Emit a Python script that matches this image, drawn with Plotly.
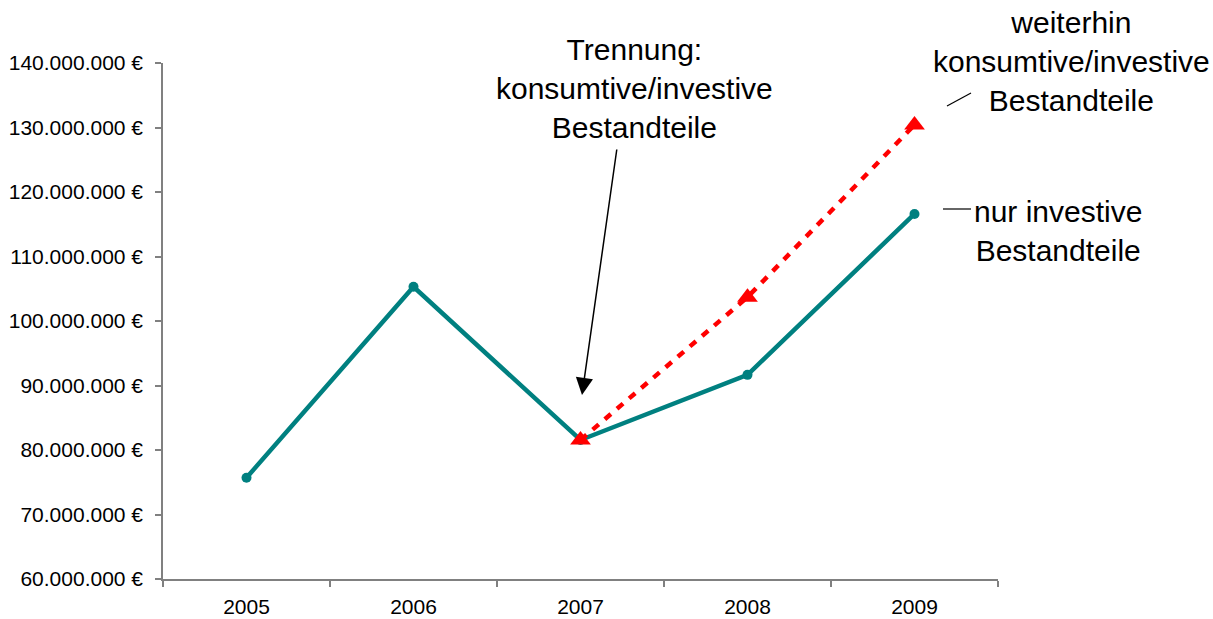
import plotly.graph_objects as go

years = ["2005", "2006", "2007", "2008", "2009"]
nur_investiv = [75_700_000, 105_300_000, 81_550_000, 91_650_000, 116_600_000]
weiterhin_years = ["2007", "2008", "2009"]
weiterhin = [81_550_000, 103_700_000, 130_400_000]

FONT = "Liberation Sans, Arial, sans-serif"
L, R, T, B = 163, 215, 63, 40
W, H = 1213, 619
pw, ph = W - L - R, H - T - B

def px(x):
    return (x - L) / pw

def py(y):
    return (H - B - y) / ph

fig = go.Figure()
fig.add_trace(go.Scatter(
    x=years, y=nur_investiv, mode="lines+markers",
    line=dict(color="#008080", width=4.5),
    marker=dict(color="#008080", size=10, symbol="circle"),
    showlegend=False, cliponaxis=False,
))
fig.add_trace(go.Scatter(
    x=weiterhin_years, y=weiterhin, mode="lines+markers",
    line=dict(color="#FF0000", width=4.5, dash="8px,8px"),
    marker=dict(color="#FF0000", size=18, symbol="triangle-up"),
    showlegend=False, cliponaxis=False,
))

fig.update_layout(
    width=W, height=H,
    margin=dict(l=L, r=R, t=T, b=B),
    paper_bgcolor="white", plot_bgcolor="white",
    font=dict(family=FONT, size=21, color="black"),
    separators=",.",
    xaxis=dict(
        type="category", range=[-0.5, 4.5], automargin=False,
        showline=True, linecolor="#808080", linewidth=1.5,
        ticks="outside", tickson="boundaries", ticklen=6, tickcolor="#808080", tickwidth=1.5,
        showgrid=False, zeroline=False, ticklabelstandoff=8,
        tickfont=dict(family=FONT, size=21, color="black"),
    ),
    yaxis=dict(
        range=[60_000_000, 140_000_000], dtick=10_000_000, automargin=False,
        tickformat=",d", ticksuffix=" €",
        showline=True, linecolor="#808080", linewidth=1.5,
        ticks="outside", ticklen=6, tickcolor="#808080", tickwidth=1.5,
        showgrid=False, zeroline=False, ticklabelstandoff=8,
        tickfont=dict(family=FONT, size=21, color="black"),
    ),
)

ann_font = dict(family=FONT, size=30, color="black")
fig.add_annotation(
    text="Trennung:<br>konsumtive/investive<br>Bestandteile",
    xref="paper", yref="paper", x=px(634), y=py(89),
    xanchor="center", yanchor="middle", showarrow=False, font=ann_font, align="center",
)
fig.add_annotation(
    text="weiterhin<br>konsumtive/investive<br>Bestandteile",
    xref="paper", yref="paper", x=px(1071), y=py(61),
    xanchor="center", yanchor="middle", showarrow=False, font=ann_font, align="center",
)
fig.add_annotation(
    text="nur investive<br>Bestandteile",
    xref="paper", yref="paper", x=px(1058), y=py(231),
    xanchor="center", yanchor="middle", showarrow=False, font=ann_font, align="center",
)
# arrow
fig.add_annotation(
    text="", xref="paper", yref="paper", x=px(582), y=py(395),
    ax=35, ay=-247, showarrow=True, arrowhead=2, arrowsize=2.3, arrowwidth=1.5,
    arrowcolor="black", standoff=0,
)
fig.add_shape(type="line", xref="paper", yref="paper",
              x0=px(947), y0=py(106), x1=px(971), y1=py(93),
              line=dict(color="black", width=1.2))
fig.add_shape(type="line", xref="paper", yref="paper",
              x0=px(943), y0=py(209), x1=px(971), y1=py(209),
              line=dict(color="black", width=1.2))

fig.write_html("out.html", config={"displayModeBar": False},
               post_script="document.body.style.margin='0';")
